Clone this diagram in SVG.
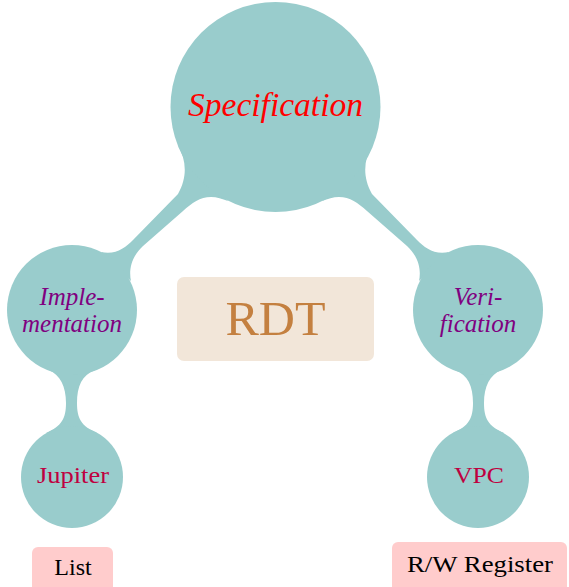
<svg xmlns="http://www.w3.org/2000/svg" width="569" height="587" viewBox="0 0 569 587">
<style>
.concept{fill:#99cccc;}
.conn{fill:#99cccc;stroke:none;}
.it{font-family:"Liberation Serif","Times New Roman",serif;font-style:italic;text-anchor:middle;}
.rm{font-family:"Liberation Serif","Times New Roman",serif;text-anchor:middle;}
.pink{fill:#ffcccc;}
</style>
<rect width="569" height="587" fill="#ffffff"/>
<g id="connectors">
<path class="conn" d="M 178,145 C 186,160 188,176 178,194 L 133,240 C 125,248 116,255 101,252 L 131,281 C 129,272 130,258 143,246 L 183,211 C 192,203 200,197 211,197 C 217,197 222,199 228,201 Z"/>
<path class="conn" d="M 372,145 C 364,160 362,176 372,194 L 417,240 C 425,248 434,255 449,252 L 419,281 C 421,272 420,258 407,246 L 367,211 C 358,203 350,197 339,197 C 333,197 328,199 322,201 Z"/>
<path class="conn" d="M 49,370 C 60,375 66,386 66,403 C 66,418 62,426 46,433 L 97,433 C 81,426 77,418 77,403 C 77,386 82,375 95,370 Z"/>
<path class="conn" d="M 501,370 C 490,375 484,386 484,403 C 484,418 488,426 504,433 L 453,433 C 469,426 473,418 473,403 C 473,386 468,375 455,370 Z"/>
</g>
<g id="specification">
<circle class="concept" cx="275.5" cy="107" r="105"/>
<text class="it" x="275.5" y="116" font-size="34" fill="#ff0000" textLength="175" lengthAdjust="spacingAndGlyphs">Specification</text>
</g>
<g id="implementation">
<circle class="concept" cx="72" cy="310" r="65"/>
<text class="it" font-size="25" fill="#800080"><tspan x="72" y="305">Imple-</tspan><tspan x="72" y="332">mentation</tspan></text>
</g>
<g id="verification">
<circle class="concept" cx="478" cy="310" r="65"/>
<text class="it" font-size="25" fill="#800080"><tspan x="478" y="305">Veri-</tspan><tspan x="478" y="332">fication</tspan></text>
</g>
<g id="jupiter">
<circle class="concept" cx="72" cy="477" r="51"/>
<text class="rm" x="73" y="483" font-size="24" fill="#bf0040" textLength="72" lengthAdjust="spacingAndGlyphs">Jupiter</text>
</g>
<g id="vpc">
<circle class="concept" cx="478" cy="477" r="51"/>
<text class="rm" x="479" y="483" font-size="24" fill="#bf0040" textLength="50" lengthAdjust="spacingAndGlyphs">VPC</text>
</g>
<g id="rdt">
<rect x="177" y="277" width="197" height="84" rx="7" fill="#f2e6d9"/>
<text class="rm" x="275.5" y="335" font-size="48" fill="#c48040" textLength="100" lengthAdjust="spacingAndGlyphs">RDT</text>
</g>
<g id="list">
<rect class="pink" x="32" y="547" width="81" height="50" rx="6"/>
<text class="rm" x="73" y="575" font-size="24" fill="#000000">List</text>
</g>
<g id="rwregister">
<rect class="pink" x="392" y="542" width="175" height="55" rx="6"/>
<text class="rm" x="480" y="572" font-size="24" fill="#000000" textLength="146" lengthAdjust="spacingAndGlyphs">R/W Register</text>
</g>
</svg>
